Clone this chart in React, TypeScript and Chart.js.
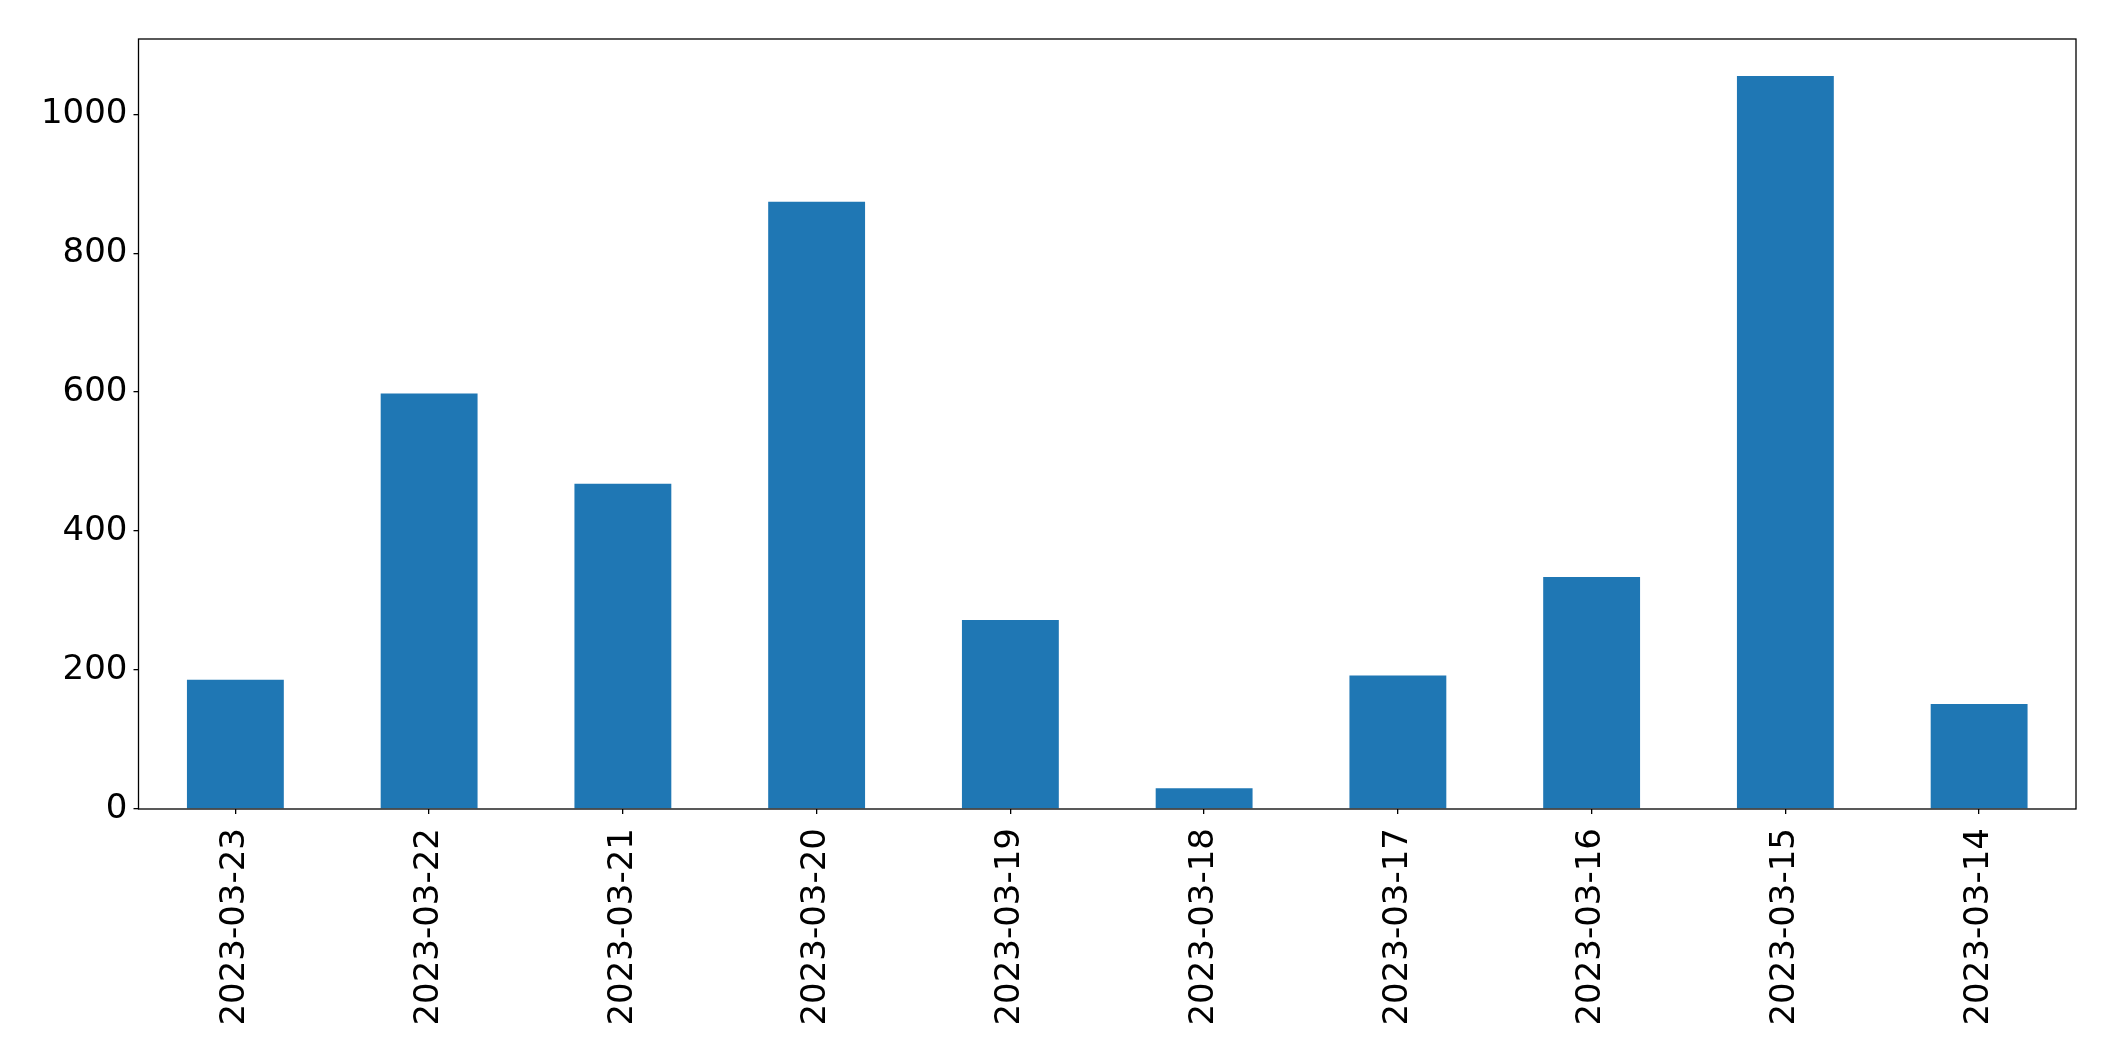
import React, { useEffect, useRef } from "react";
import { Chart, registerables } from "chart.js";

Chart.register(...registerables);

const categories = [
  "2023-03-23",
  "2023-03-22",
  "2023-03-21",
  "2023-03-20",
  "2023-03-19",
  "2023-03-18",
  "2023-03-17",
  "2023-03-16",
  "2023-03-15",
  "2023-03-14",
];
const values = [186, 598, 468, 874, 272, 30, 192, 334, 1055, 151];
const yTicks = [0, 200, 400, 600, 800, 1000];

const W = 2115;
const H = 1061;

const frame = {
  id: "frame",
  afterDraw(chart: any) {
    const { ctx, chartArea } = chart;
    ctx.save();
    ctx.strokeStyle = "#000";
    ctx.lineWidth = 1.3;
    ctx.strokeRect(chartArea.left, chartArea.top, chartArea.right - chartArea.left, chartArea.bottom - chartArea.top);
    ctx.restore();
  },
};

export default function App() {
  const ref = useRef<HTMLCanvasElement>(null);
  useEffect(() => {
    const font = { family: "'DejaVu Sans'", size: 34 };
    const chart = new Chart(ref.current!, {
      type: "bar",
      data: {
        labels: categories,
        datasets: [
          {
            data: values,
            backgroundColor: "#1f77b4",
            barPercentage: 0.5,
            categoryPercentage: 1,
          },
        ],
      },
      options: {
        responsive: false,
        animation: false,
        devicePixelRatio: 1,
        layout: { padding: { left: 0, top: 39, right: 39, bottom: 0 } },
        plugins: { legend: { display: false }, tooltip: { enabled: false } },
        scales: {
          x: {
            offset: true,
            grid: { display: true, drawOnChartArea: false, drawTicks: true, tickLength: 5, color: "#000", lineWidth: 1.3, offset: false },
            border: { display: false },
            ticks: { color: "#000", font, minRotation: 90, maxRotation: 90, padding: 14, autoSkip: false },
            afterFit(scale: any) {
              scale.height = H - 809;
            },
          },
          y: {
            min: 0,
            max: 1108.3,
            grid: { display: true, drawOnChartArea: false, drawTicks: true, tickLength: 5, color: "#000", lineWidth: 1.3 },
            border: { display: false },
            afterBuildTicks(scale: any) {
              scale.ticks = yTicks.map((v) => ({ value: v }));
            },
            ticks: { color: "#000", font, padding: 6, callback: (v: any) => String(v) },
            afterFit(scale: any) {
              scale.width = 138.5;
            },
          },
        },
      },
      plugins: [frame],
    });
    return () => chart.destroy();
  }, []);
  return (
    <div style={{ position: "fixed", left: 0, top: 0, width: W, height: H, background: "#fff" }}>
      <canvas ref={ref} width={W} height={H} style={{ display: "block" }} />
    </div>
  );
}
